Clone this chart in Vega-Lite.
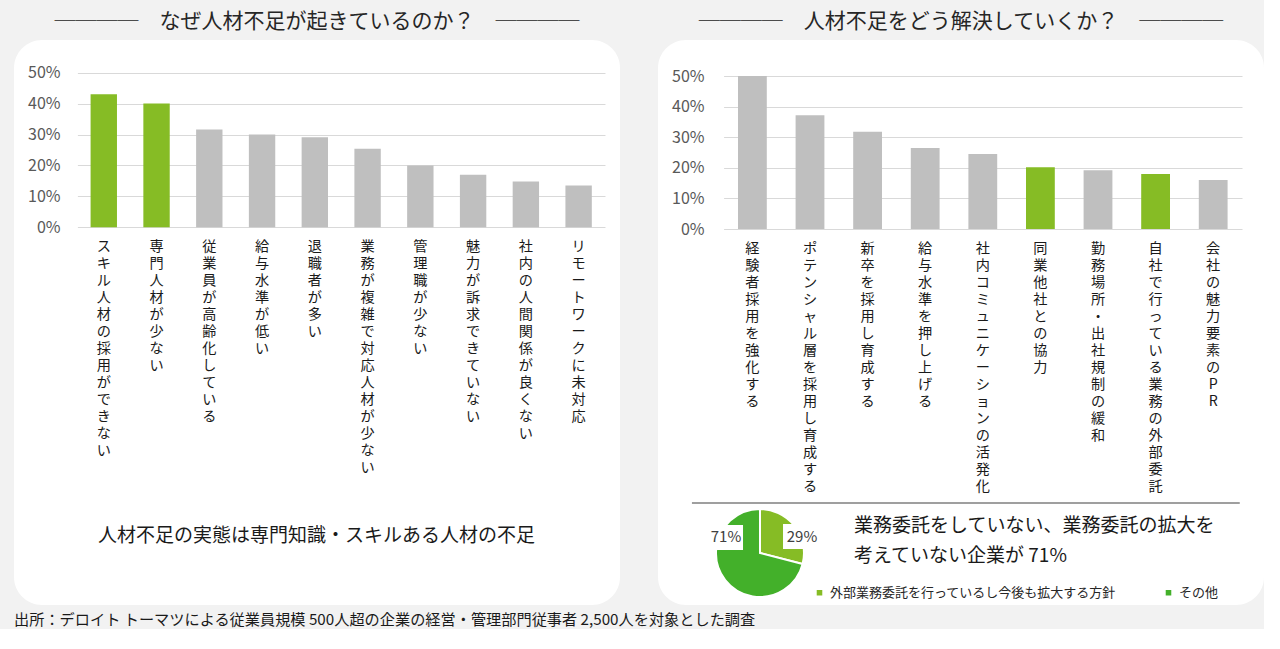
{
  "$schema": "https://vega.github.io/schema/vega-lite/v6.json",
  "background": "#f2f2f2",
  "padding": {"left": 14, "top": 11, "right": 0, "bottom": 0},
  "title": {
    "text": "出所：デロイト トーマツによる従業員規模 500人超の企業の経営・管理部門従事者 2,500人を対象とした調査",
    "orient": "bottom",
    "anchor": "start",
    "fontSize": 15.2,
    "color": "#1a1a1a",
    "offset": 8
  },
  "datasets": {
    "left": [
      {"理由": "スキル人材の採用ができない", "割合": 43.0, "注目": true},
      {"理由": "専門人材が少ない", "割合": 40.0, "注目": true},
      {"理由": "従業員が高齢化している", "割合": 31.6, "注目": false},
      {"理由": "給与水準が低い", "割合": 30.0, "注目": false},
      {"理由": "退職者が多い", "割合": 29.1, "注目": false},
      {"理由": "業務が複雑で対応人材が少ない", "割合": 25.4, "注目": false},
      {"理由": "管理職が少ない", "割合": 20.0, "注目": false},
      {"理由": "魅力が訴求できていない", "割合": 17.0, "注目": false},
      {"理由": "社内の人間関係が良くない", "割合": 14.8, "注目": false},
      {"理由": "リモートワークに未対応", "割合": 13.5, "注目": false}
    ],
    "right": [
      {"施策": "経験者採用を強化する", "割合": 50.0, "注目": false},
      {"施策": "ポテンシャル層を採用し育成する", "割合": 37.2, "注目": false},
      {"施策": "新卒を採用し育成する", "割合": 31.8, "注目": false},
      {"施策": "給与水準を押し上げる", "割合": 26.5, "注目": false},
      {"施策": "社内コミュニケーションの活発化", "割合": 24.5, "注目": false},
      {"施策": "同業他社との協力", "割合": 20.2, "注目": true},
      {"施策": "勤務場所・出社規制の緩和", "割合": 19.2, "注目": false},
      {"施策": "自社で行っている業務の外部委託", "割合": 18.0, "注目": true},
      {"施策": "会社の魅力要素のPR", "割合": 16.0, "注目": false}
    ],
    "pie": [
      {"区分": "外部業務委託を行っているし今後も拡大する方針", "割合": 29},
      {"区分": "その他", "割合": 71}
    ]
  },
  "spacing": 38,
  "resolve": {"scale": {"color": "independent"}, "legend": {"color": "independent"}},
  "hconcat": [
    {
      "width": 606,
      "height": 565,
      "title": {"text": "────　なぜ人材不足が起きているのか？　────", "offset": 8},
      "data": {"name": "left"},
      "mark": {"type": "bar"},
      "encoding": {
        "x": {
          "field": "理由",
          "type": "nominal",
          "sort": null,
          "scale": {"range": [63.4, 591], "paddingInner": 0.5, "paddingOuter": 0.25},
          "axis": {
            "orient": "bottom",
            "offset": -377.7,
            "labelExpr": "split(datum.label, '')",
            "labelAngle": 0,
            "labelAlign": "center",
            "labelBaseline": "top",
            "labelPadding": 12,
            "labelFontSize": 14.2,
            "labelLineHeight": 17,
            "labelColor": "#1a1a1a",
            "labelOverlap": false,
            "title": "人材不足の実態は専門知識・スキルある人材の不足",
            "titleX": 302,
            "titleY": 307.7,
            "titleAlign": "center",
            "titleBaseline": "middle",
            "titleFontSize": 19,
            "titleFontWeight": "normal",
            "titleColor": "#1a1a1a"
          }
        },
        "y": {
          "field": "割合",
          "type": "quantitative",
          "scale": {"domain": [0, 50], "range": [187.3, 32.7], "nice": false},
          "axis": {
            "values": [0, 10, 20, 30, 40, 50],
            "labelExpr": "datum.value + '%'",
            "offset": -48,
            "labelPadding": 2,
            "grid": true,
            "gridColor": "#d9d9d9",
            "labelFontSize": 16,
            "labelColor": "#595959",
            "title": null
          }
        },
        "color": {"condition": {"test": "datum['注目']", "value": "#86bc25"}, "value": "#bfbfbf"}
      }
    },
    {
      "width": 606,
      "height": 565,
      "title": {"text": "────　人材不足をどう解決していくか？　────", "offset": 8},
      "resolve": {"scale": {"x": "independent", "y": "independent"}},
      "layer": [
        {
          "data": {"name": "right"},
          "mark": {"type": "bar"},
          "encoding": {
            "x": {
              "field": "施策",
              "type": "nominal",
              "sort": null,
              "scale": {"range": [65.6, 584], "paddingInner": 0.5, "paddingOuter": 0.25},
              "axis": {
                "orient": "bottom",
                "offset": -376,
                "labelExpr": "split(datum.label, '')",
                "labelAngle": 0,
                "labelAlign": "center",
                "labelBaseline": "top",
                "labelPadding": 12,
                "labelFontSize": 14.2,
                "labelLineHeight": 17,
                "labelColor": "#1a1a1a",
                "labelOverlap": false,
                "title": null
              }
            },
            "y": {
              "field": "割合",
              "type": "quantitative",
              "scale": {"domain": [0, 50], "range": [189, 36], "nice": false},
              "axis": {
                "values": [0, 10, 20, 30, 40, 50],
                "labelExpr": "datum.value + '%'",
                "offset": -48,
                "labelPadding": 2,
                "grid": true,
                "gridColor": "#d9d9d9",
                "labelFontSize": 16,
                "labelColor": "#595959",
                "title": null
              }
            },
            "color": {"condition": {"test": "datum['注目']", "value": "#86bc25"}, "value": "#bfbfbf"}
          }
        },
        {
          "data": {"values": [{}]},
          "layer": [
            {
              "mark": {"type": "rule", "color": "#404040", "strokeWidth": 1.2},
              "encoding": {
                "x": {"datum": 5.6, "type": "quantitative", "scale": {"domain": [0, 100], "nice": false, "zero": false}, "axis": null},
                "x2": {"datum": 96.0},
                "y": {"datum": 81.95, "type": "quantitative", "scale": {"domain": [0, 100], "reverse": true, "nice": false, "zero": false}, "axis": null}
              }
            },
            {
              "data": {"name": "pie"},
              "mark": {"type": "arc", "radius": 44, "stroke": "white", "strokeWidth": 2},
              "encoding": {
                "theta": {"field": "割合", "type": "quantitative", "stack": true},
                "order": {"field": "割合", "sort": "ascending"},
                "color": {
                  "field": "区分",
                  "type": "nominal",
                  "scale": {"domain": ["外部業務委託を行っているし今後も拡大する方針", "その他"], "range": ["#86bc25", "#43b02a"]},
                  "legend": {
                    "orient": "none",
                    "legendX": 155,
                    "legendY": 546,
                    "direction": "horizontal",
                    "title": null,
                    "symbolType": "square",
                    "symbolSize": 50,
                    "labelFontSize": 13,
                    "labelOffset": 4,
                    "labelLimit": 0,
                    "labelColor": "#262626",
                    "columnPadding": 44
                  }
                },
                "x": {"datum": 16.83, "type": "quantitative", "axis": null},
                "y": {"datum": 90.8, "type": "quantitative", "axis": null}
              }
            },
            {
              "mark": {"type": "rect", "color": "white"},
              "encoding": {
                "x": {"datum": 8.09, "type": "quantitative", "axis": null},
                "x2": {"datum": 14.03},
                "y": {"datum": 85.84, "type": "quantitative", "axis": null},
                "y2": {"datum": 90.27}
              }
            },
            {
              "mark": {"type": "rect", "color": "white"},
              "encoding": {
                "x": {"datum": 20.63, "type": "quantitative", "axis": null},
                "x2": {"datum": 26.4},
                "y": {"datum": 85.66, "type": "quantitative", "axis": null},
                "y2": {"datum": 90.09}
              }
            },
            {
              "mark": {"type": "text", "fontSize": 15, "color": "#404040", "text": "71%"},
              "encoding": {
                "x": {"datum": 11.22, "type": "quantitative", "axis": null},
                "y": {"datum": 87.96, "type": "quantitative", "axis": null}
              }
            },
            {
              "mark": {"type": "text", "fontSize": 15, "color": "#404040", "text": "29%"},
              "encoding": {
                "x": {"datum": 23.76, "type": "quantitative", "axis": null},
                "y": {"datum": 87.96, "type": "quantitative", "axis": null}
              }
            },
            {
              "mark": {
                "type": "text",
                "align": "left",
                "baseline": "middle",
                "fontSize": 19,
                "lineHeight": 30,
                "color": "#1a1a1a",
                "text": ["業務委託をしていない、業務委託の拡大を", "考えていない企業が 71%"]
              },
              "encoding": {
                "x": {"datum": 32.34, "type": "quantitative", "axis": null},
                "y": {"datum": 86.02, "type": "quantitative", "axis": null}
              }
            }
          ]
        }
      ]
    }
  ],
  "config": {
    "font": "Noto Sans CJK JP",
    "view": {"fill": "white", "stroke": null, "cornerRadius": 28},
    "title": {"fontSize": 21, "fontWeight": "normal", "color": "#262626", "font": "Noto Sans CJK JP"},
    "axis": {"domain": false, "ticks": false, "labelFont": "Noto Sans CJK JP", "titleFont": "Noto Sans CJK JP"},
    "legend": {"labelFont": "Noto Sans CJK JP"},
    "text": {"font": "Noto Sans CJK JP"}
  }
}
